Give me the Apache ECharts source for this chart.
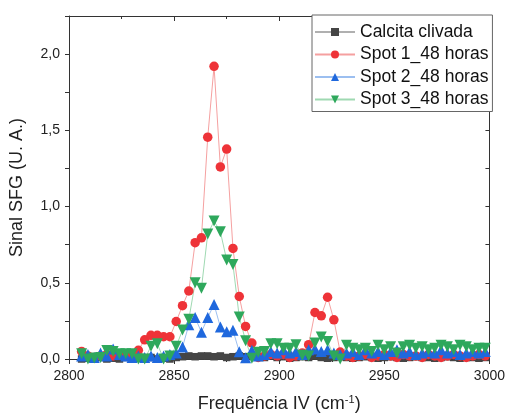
<!DOCTYPE html>
<html>
<head>
<meta charset="utf-8">
<script src="https://cdn.jsdelivr.net/npm/echarts@6/dist/echarts.min.js"></script>
<style>
html,body{margin:0;padding:0;background:#fff;}
#chart{width:508px;height:418px;}
</style>
</head>
<body>
<div id="chart"></div>
<script>
// Frequency (cm-1)
var freq = [2806,2809,2812,2815,2818,2821,2824,2827,2830,2833,2836,2839,2842,2845,2848,2851,2854,2857,2860,2863,2866,2869,2872,2875,2878,2881,2884,2887,2890,2893,2896,2899,2902,2905,2908,2911,2914,2917,2920,2923,2926,2929,2932,2935,2938,2941,2944,2947,2950,2953,2956,2959,2962,2965,2968,2971,2974,2977,2980,2983,2986,2989,2992,2995,2998];

var calcita = [0.0,0.005,0.0,0.01,0.0,0.005,0.0,0.01,0.0,0.005,0.0,0.01,0.0,0.005,0.0,0.01,0.015,0.02,0.015,0.02,0.02,0.015,0.02,0.01,0.015,0.02,0.015,0.02,0.015,0.01,0.02,0.01,0.015,0.005,0.01,0.015,0.01,0.02,0.01,0.005,0.01,0.015,0.01,0.005,0.01,0.015,0.01,0.005,0.01,0.015,0.01,0.005,0.01,0.015,0.01,0.01,0.005,0.01,0.015,0.01,0.005,0.01,0.01,0.005,0.01];

var spot1 = [0.05,0.02,0.01,0.02,0.03,0.02,0.03,0.02,0.03,0.057,0.126,0.155,0.155,0.146,0.146,0.246,0.35,0.446,0.763,0.795,1.455,1.92,1.26,1.377,0.725,0.41,0.214,0.105,0.01,0.02,0.03,0.02,0.03,0.01,0.02,0.04,0.094,0.305,0.283,0.405,0.257,0.046,0.02,0.01,0.02,0.03,0.01,0.02,0.03,0.02,0.01,0.03,0.02,0.02,0.01,0.03,0.02,0.01,0.02,0.03,0.02,0.01,0.02,0.03,0.02];

var spot2 = [0.02,0.03,0.01,0.04,0.02,0.065,0.03,0.02,0.01,0.02,0.01,0.02,0.01,0.02,0.03,0.04,0.078,0.224,0.272,0.175,0.272,0.358,0.21,0.178,0.188,0.048,0.008,0.058,0.02,0.03,0.05,0.04,0.06,0.04,0.05,0.03,0.06,0.065,0.05,0.06,0.04,0.03,0.04,0.05,0.03,0.06,0.04,0.05,0.03,0.05,0.06,0.04,0.05,0.03,0.04,0.05,0.04,0.06,0.04,0.05,0.03,0.04,0.05,0.04,0.05];

var spot3 = [0.035,0.0,0.007,0.01,0.055,0.05,0.035,0.035,0.035,0.0,0.0,0.083,0.1,0.0,0.02,0.083,0.19,0.26,0.5,0.464,0.82,0.905,0.835,0.65,0.62,0.275,0.12,0.005,0.045,0.05,0.1,0.1,0.07,0.07,0.093,0.025,0.02,0.105,0.145,0.115,0.02,0.0,0.09,0.07,0.06,0.07,0.05,0.09,0.06,0.08,0.04,0.08,0.09,0.07,0.08,0.06,0.07,0.09,0.08,0.06,0.09,0.08,0.06,0.07,0.07];

var seriesNames = ['Calcita clivada','Spot 1_48 horas','Spot 2_48 horas','Spot 3_48 horas'];
var xTicks = {min:2800, max:3000, step:50};
var yTicks = {min:0, max:2.25, step:0.25};

function pairs(ys){ return ys.map(function(v,i){ return [freq[i], v]; }); }

var FONT = '"Liberation Sans", Arial, sans-serif';
var chart = echarts.init(document.getElementById('chart'), null, {renderer:'canvas'});

function mkSeries(name, data, symbol, rotate, mcolor, lcolor){
  return {
    name:name, type:'line', data:pairs(data),
    symbol:symbol, symbolSize: symbol==='rect'?7.5:(symbol==='circle'?9.5:11), symbolRotate:rotate,
    itemStyle:{color:mcolor, borderWidth:0},
    lineStyle:{color:lcolor, width:1},
    emphasis:{disabled:true}
  };
}

chart.setOption({
  animation:false,
  backgroundColor:'#fff',
  grid:{left:65, right:16, top:16, bottom:57},
  legend:{
    orient:'vertical', left:312, top:15, width:180,
    padding:[8,4,3,2], itemGap:4.5, itemWidth:40, itemHeight:10,
    borderColor:'#666', borderWidth:1, borderRadius:0, backgroundColor:'#fff',
    textStyle:{fontFamily:FONT, fontSize:17.5, color:'#111', lineHeight:17},
    data:seriesNames
  },
  xAxis:[{
    type:'value', min:xTicks.min, max:xTicks.max, interval:xTicks.step,
    name:'Frequência IV (cm{sup|-1})', nameLocation:'middle', nameGap:35,
    nameTextStyle:{fontFamily:FONT, fontSize:18, color:'#222',
      rich:{sup:{fontFamily:FONT, fontSize:11, color:'#222', verticalAlign:'top', padding:[0,0,9,0]}}},
    axisLine:{show:true, onZero:false, lineStyle:{color:'#333', width:1}},
    axisTick:{show:true, inside:false, length:5, lineStyle:{color:'#333'}},
    minorTick:{show:true, splitNumber:2, length:3, lineStyle:{color:'#333'}},
    splitLine:{show:false},
    axisLabel:{fontFamily:FONT, fontSize:14, color:'#222', margin:10,
      formatter:function(v){ return String(Math.round(v)); }}
  },{
    type:'value', position:'top', min:xTicks.min, max:xTicks.max, interval:xTicks.step,
    axisLine:{show:true, onZero:false, lineStyle:{color:'#333', width:1}},
    axisTick:{show:true, inside:true, length:5, lineStyle:{color:'#333'}},
    minorTick:{show:true, splitNumber:2, length:3, lineStyle:{color:'#333'}},
    splitLine:{show:false}, axisLabel:{show:false}
  }],
  yAxis:[{
    type:'value', min:yTicks.min, max:yTicks.max, interval:yTicks.step,
    name:'Sinal SFG (U. A.)', nameLocation:'middle', nameGap:43, nameRotate:90,
    nameTextStyle:{fontFamily:FONT, fontSize:18, color:'#222'},
    axisLine:{show:true, onZero:false, lineStyle:{color:'#333', width:1}},
    axisTick:{show:true, inside:false, length:4, lineStyle:{color:'#333'}},
    splitLine:{show:false},
    axisLabel:{fontFamily:FONT, fontSize:14, color:'#222', margin:9,
      formatter:function(v){
        var r = Math.round(v*100)/100;
        if (Math.abs(r*2 - Math.round(r*2)) > 1e-6) return '';
        return r.toFixed(1).replace('.', ',');
      }}
  },{
    type:'value', position:'right', min:yTicks.min, max:yTicks.max, interval:yTicks.step,
    axisLine:{show:true, onZero:false, lineStyle:{color:'#333', width:1}},
    axisTick:{show:true, inside:true, length:4, lineStyle:{color:'#333'}},
    splitLine:{show:false}, axisLabel:{show:false}
  }],
  series:[
    mkSeries(seriesNames[0], calcita, 'rect', 0, '#454545', '#b0b0b0'),
    mkSeries(seriesNames[1], spot1, 'circle', 0, '#ee3338', '#f5a0a0'),
    mkSeries(seriesNames[2], spot2, 'triangle', 0, '#1f68dd', '#9cbff0'),
    mkSeries(seriesNames[3], spot3, 'triangle', 180, '#2ea85c', '#9fd9b2')
  ]
});
</script>
</body>
</html>
